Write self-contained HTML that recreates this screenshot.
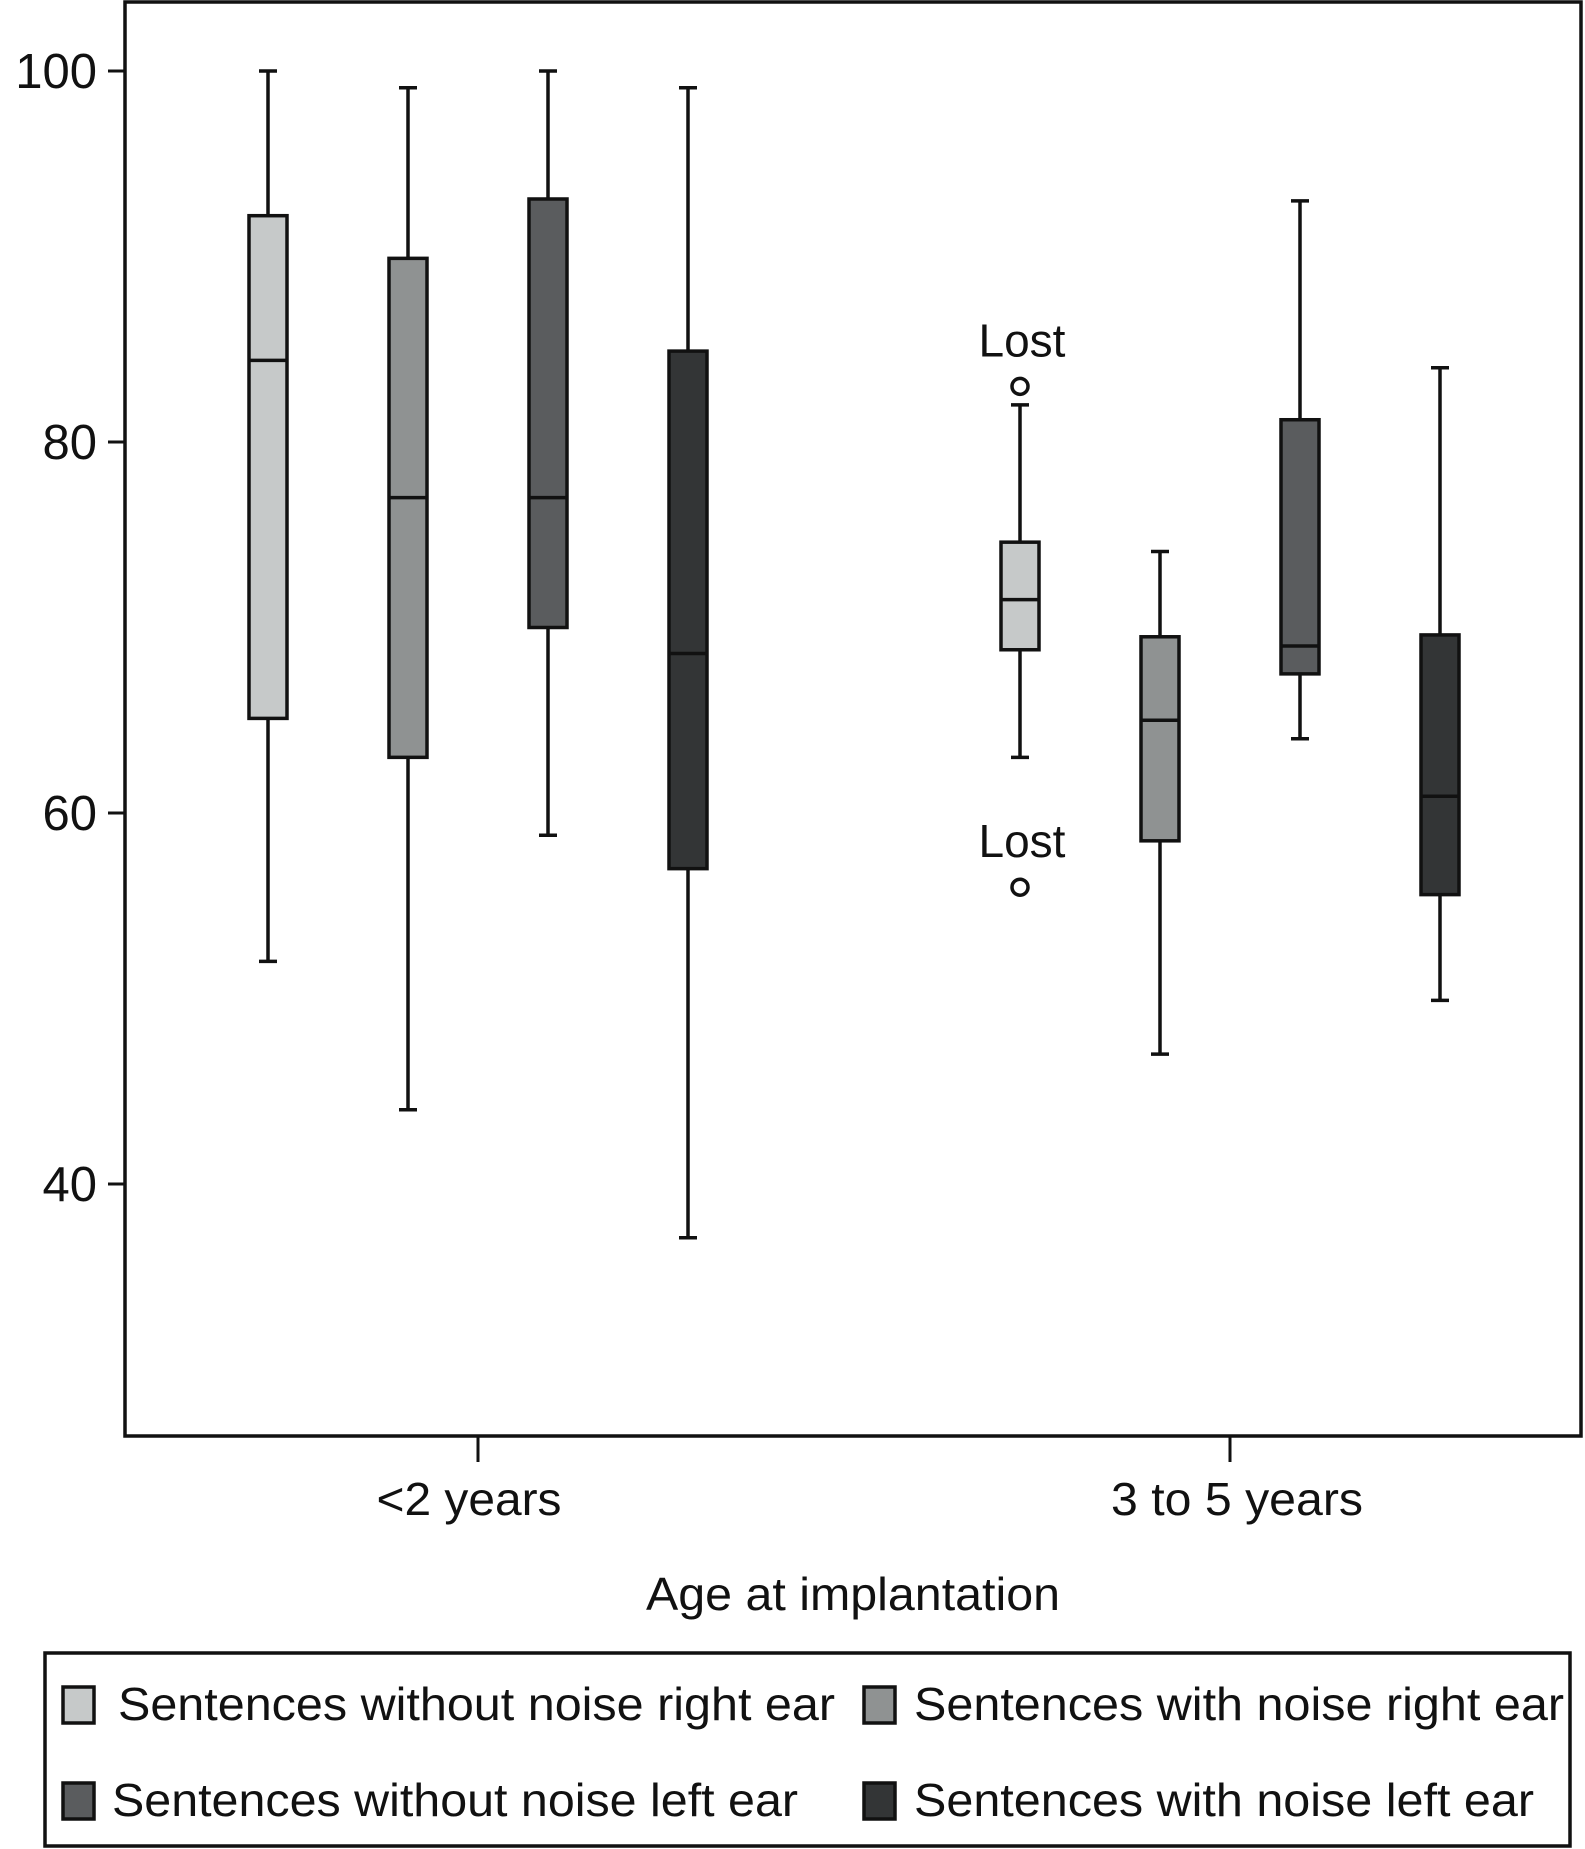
<!DOCTYPE html>
<html><head><meta charset="utf-8"><style>
html,body{margin:0;padding:0;background:#fff;}
svg{display:block;font-family:"Liberation Sans",Arial,sans-serif;}
</style></head><body>
<svg id="chart" width="1585" height="1849" viewBox="0 0 1585 1849" xmlns="http://www.w3.org/2000/svg">
<rect x="0" y="0" width="1585" height="1849" fill="#fff"/>
<rect x="125" y="2" width="1456" height="1434" fill="none" stroke="#111" stroke-width="3.5"/>
<g id="yaxis"></g>
<g id="xaxis"></g>
<g id="boxes"></g>
<text x="853" y="1610" font-size="46" text-anchor="middle" textLength="414" lengthAdjust="spacingAndGlyphs" fill="#111">Age at implantation</text>
<rect x="45" y="1653" width="1525" height="193" fill="none" stroke="#111" stroke-width="3.5"/>
<g id="legend"></g>
</svg>
<script>
const categories = ["<2 years", "3 to 5 years"];
const seriesNames = ["Sentences without noise right ear","Sentences with noise right ear","Sentences without noise left ear","Sentences with noise left ear"];
const seriesColors = ["#c6c9c9","#8f9292","#5a5c5e","#333536"];
// [low, q1, median, q3, high] per series per category
const lowVals = [[52.0,44.0,58.8,37.1],[63.0,47.0,64.0,49.9]];
const q1Vals = [[65.1,63.0,70.0,57.0],[68.8,58.5,67.5,55.6]];
const medVals = [[84.4,77.0,77.0,68.6],[71.5,65.0,69.0,60.9]];
const q3Vals = [[92.2,89.9,93.1,84.9],[74.6,69.5,81.2,69.6]];
const highVals = [[100,99.1,100,99.1],[82.0,74.1,93.0,84.0]];
const outlierCat = [1,1];
const outlierSeries = [0,0];
const outlierVals = [83.0,56.0];
const outlierLabels = ["Lost","Lost"];
const yTicks = [40,60,80,100];

const NS="http://www.w3.org/2000/svg";
function y(v){return 71+(100-v)*18.55;}
const catX=[478,1230];
const catLabelX=[469,1237];
const catLen=[185,252];
const offs=[-210,-70,70,210];
function xPos(c,s){return catX[c]+offs[s];}
function mk(tag,attrs,parent){const e=document.createElementNS(NS,tag);for(const k in attrs)e.setAttribute(k,attrs[k]);parent.appendChild(e);return e;}
const ya=document.getElementById('yaxis'),xa=document.getElementById('xaxis'),bx=document.getElementById('boxes'),lg=document.getElementById('legend');
yTicks.forEach(t=>{
  const l=mk('line',{x1:108,x2:125,y1:y(t),y2:y(t),stroke:'#111','stroke-width':3},ya);
  
  
  const tx=mk('text',{x:97,y:y(t)+17,'font-size':49,'text-anchor':'end',fill:'#111'},ya);
  tx.textContent=t;
  
  
});
categories.forEach((c,i)=>{
  const l=mk('line',{x1:catX[i],x2:catX[i],y1:1436,y2:1462,stroke:'#111','stroke-width':3},xa);
  
  
  const tx=mk('text',{x:catLabelX[i],y:1515,'font-size':46,'text-anchor':'middle',fill:'#111',textLength:catLen[i],lengthAdjust:'spacingAndGlyphs'},xa);
  tx.textContent=c;
  
  
});
for(let c=0;c<2;c++)for(let s=0;s<4;s++){
  const x=xPos(c,s),g=mk('g',{},bx);
  
  
  const st={stroke:'#111','stroke-width':3.5};
  mk('line',Object.assign({x1:x,x2:x,y1:y(highVals[c][s]),y2:y(q3Vals[c][s])},st),g);
  mk('line',Object.assign({x1:x,x2:x,y1:y(q1Vals[c][s]),y2:y(lowVals[c][s])},st),g);
  mk('line',Object.assign({x1:x-9,x2:x+9,y1:y(highVals[c][s]),y2:y(highVals[c][s])},st),g);
  mk('line',Object.assign({x1:x-9,x2:x+9,y1:y(lowVals[c][s]),y2:y(lowVals[c][s])},st),g);
  mk('rect',{x:x-19,y:y(q3Vals[c][s]),width:38,height:y(q1Vals[c][s])-y(q3Vals[c][s]),fill:seriesColors[s],stroke:'#111','stroke-width':3.5},g);
  mk('line',Object.assign({x1:x-19,x2:x+19,y1:y(medVals[c][s]),y2:y(medVals[c][s])},st),g);
}
outlierVals.forEach((v,i)=>{
  const x=xPos(outlierCat[i],outlierSeries[i]);
  const ci=mk('circle',{cx:x,cy:y(v),r:8,fill:'#fff',stroke:'#111','stroke-width':3.5},bx);
  
  
  const t=mk('text',{x:x+2,y:y(v)-30,'font-size':46,'text-anchor':'middle',fill:'#111'},bx);
  t.textContent=outlierLabels[i];
  
  
});
const lgPos=[[63,118,1705],[864,914,1705],[63,112,1801],[864,914,1801]];
const lgLen=[717,650,686,620];
seriesNames.forEach((n,i)=>{
  const p=lgPos[i];
  const r=mk('rect',{x:p[0],y:p[2]-18,width:31,height:36,fill:seriesColors[i],stroke:'#111','stroke-width':3.5},lg);
  
  
  const t=mk('text',{x:p[1],y:p[2]+15,'font-size':46,fill:'#111',textLength:lgLen[i],lengthAdjust:'spacingAndGlyphs'},lg);
  t.textContent=n;
  
  
});
</script>
</body></html>
